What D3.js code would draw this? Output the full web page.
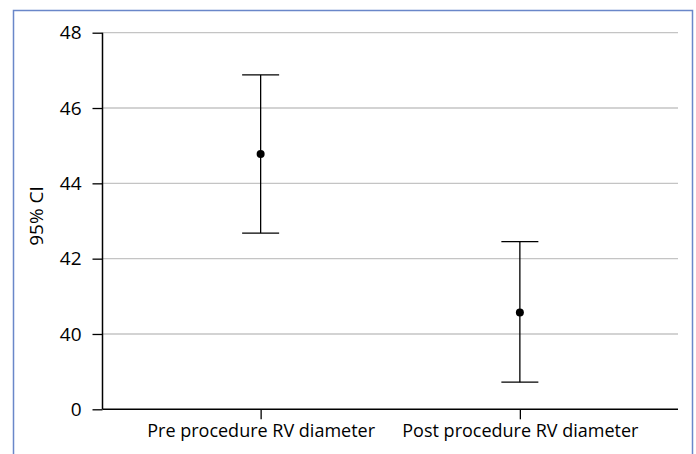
<!DOCTYPE html>
<html>
<head>
<meta charset="utf-8">
<script src="https://cdn.jsdelivr.net/npm/d3@7"></script>
<style>
  html, body { margin: 0; padding: 0; background: #fff; }
  svg { display: block; }
  text { font-family: "Open Sans", "Noto Sans", sans-serif; fill: #000; }
</style>
</head>
<body>
<svg id="chart" width="696" height="454"></svg>
<script>
// ---- data ----
const categories = ["Pre procedure RV diameter", "Post procedure RV diameter"];
const means = [44.78, 40.57];
const lowerCI = [42.68, 38.72];
const upperCI = [46.88, 42.45];
// broken axis: the bottom tick is labelled "0"
const yTickValues = [38, 40, 42, 44, 46, 48];
const yTickLabels = ["0", "40", "42", "44", "46", "48"];
const yAxisTitle = "95% CI";

(function () {
// ---- layout ----
const svg = d3.select("#chart");
const pLeft = 102.5, pRight = 678, pTop = 32.7, pBottom = 409.3;

// frame
svg.append("rect")
  .attr("x", 13.5).attr("y", 10.5)
  .attr("width", 679).attr("height", 460)
  .attr("fill", "none")
  .attr("stroke", "#6a87c9")
  .attr("stroke-width", 1.5);

const y = d3.scaleLinear().domain([38, 48]).range([pBottom, pTop]);
const x = d3.scalePoint().domain(categories).range([pLeft, pRight]).padding(0.61);

// gridlines
svg.append("g").selectAll("line")
  .data(yTickValues.filter(v => v !== 38))
  .join("line")
  .attr("x1", pLeft).attr("x2", pRight)
  .attr("y1", d => y(d)).attr("y2", d => y(d))
  .attr("stroke", "#c4c4c4").attr("stroke-width", 1.3);

// y axis
const yAxis = d3.axisLeft(y)
  .tickValues(yTickValues)
  .tickFormat((d, i) => yTickLabels[i])
  .tickSize(10).tickPadding(11);
const gy = svg.append("g").attr("transform", `translate(${pLeft},0)`).call(yAxis);
gy.select(".domain").remove();
gy.append("line").attr("x1", 0).attr("x2", 0).attr("y1", pTop).attr("y2", pBottom)
  .attr("stroke", "#000").attr("stroke-width", 1.5);
gy.selectAll(".tick line").attr("stroke", "#000").attr("stroke-width", 1.3);
gy.selectAll(".tick text").style("font-family", '"Open Sans", sans-serif')
  .style("font-size", "19px").attr("fill", "#000");

// x axis
const xAxis = d3.axisBottom(x).tickSize(10).tickPadding(5);
const gx = svg.append("g").attr("transform", `translate(0,${pBottom})`).call(xAxis);
gx.select(".domain").remove();
gx.append("line").attr("x1", pLeft).attr("x2", pRight).attr("y1", 0).attr("y2", 0)
  .attr("stroke", "#000").attr("stroke-width", 1.5);
gx.selectAll(".tick line").attr("stroke", "#000").attr("stroke-width", 1.3);
gx.selectAll(".tick text").style("font-family", '"Open Sans", sans-serif')
  .style("font-size", "18px").attr("fill", "#000");

// y title
svg.append("text")
  .attr("transform", `translate(43,216) rotate(-90)`)
  .attr("text-anchor", "middle")
  .style("font-size", "19px")
  .text(yAxisTitle);

// error bars
const capHalf = 18.5;
const rows = categories.map((c, i) => ({ c, m: means[i], lo: lowerCI[i], hi: upperCI[i] }));
const g = svg.append("g");
g.selectAll(".whisker").data(rows).join("line")
  .attr("x1", d => x(d.c)).attr("x2", d => x(d.c))
  .attr("y1", d => y(d.lo)).attr("y2", d => y(d.hi))
  .attr("stroke", "#000").attr("stroke-width", 1.3);
g.selectAll(".capT").data(rows).join("line")
  .attr("x1", d => x(d.c) - capHalf).attr("x2", d => x(d.c) + capHalf)
  .attr("y1", d => y(d.hi)).attr("y2", d => y(d.hi))
  .attr("stroke", "#000").attr("stroke-width", 1.3);
g.selectAll(".capB").data(rows).join("line")
  .attr("x1", d => x(d.c) - capHalf).attr("x2", d => x(d.c) + capHalf)
  .attr("y1", d => y(d.lo)).attr("y2", d => y(d.lo))
  .attr("stroke", "#000").attr("stroke-width", 1.3);
g.selectAll("circle").data(rows).join("circle")
  .attr("cx", d => x(d.c)).attr("cy", d => y(d.m)).attr("r", 4)
  .attr("fill", "#000");
})();
</script>
</body>
</html>
